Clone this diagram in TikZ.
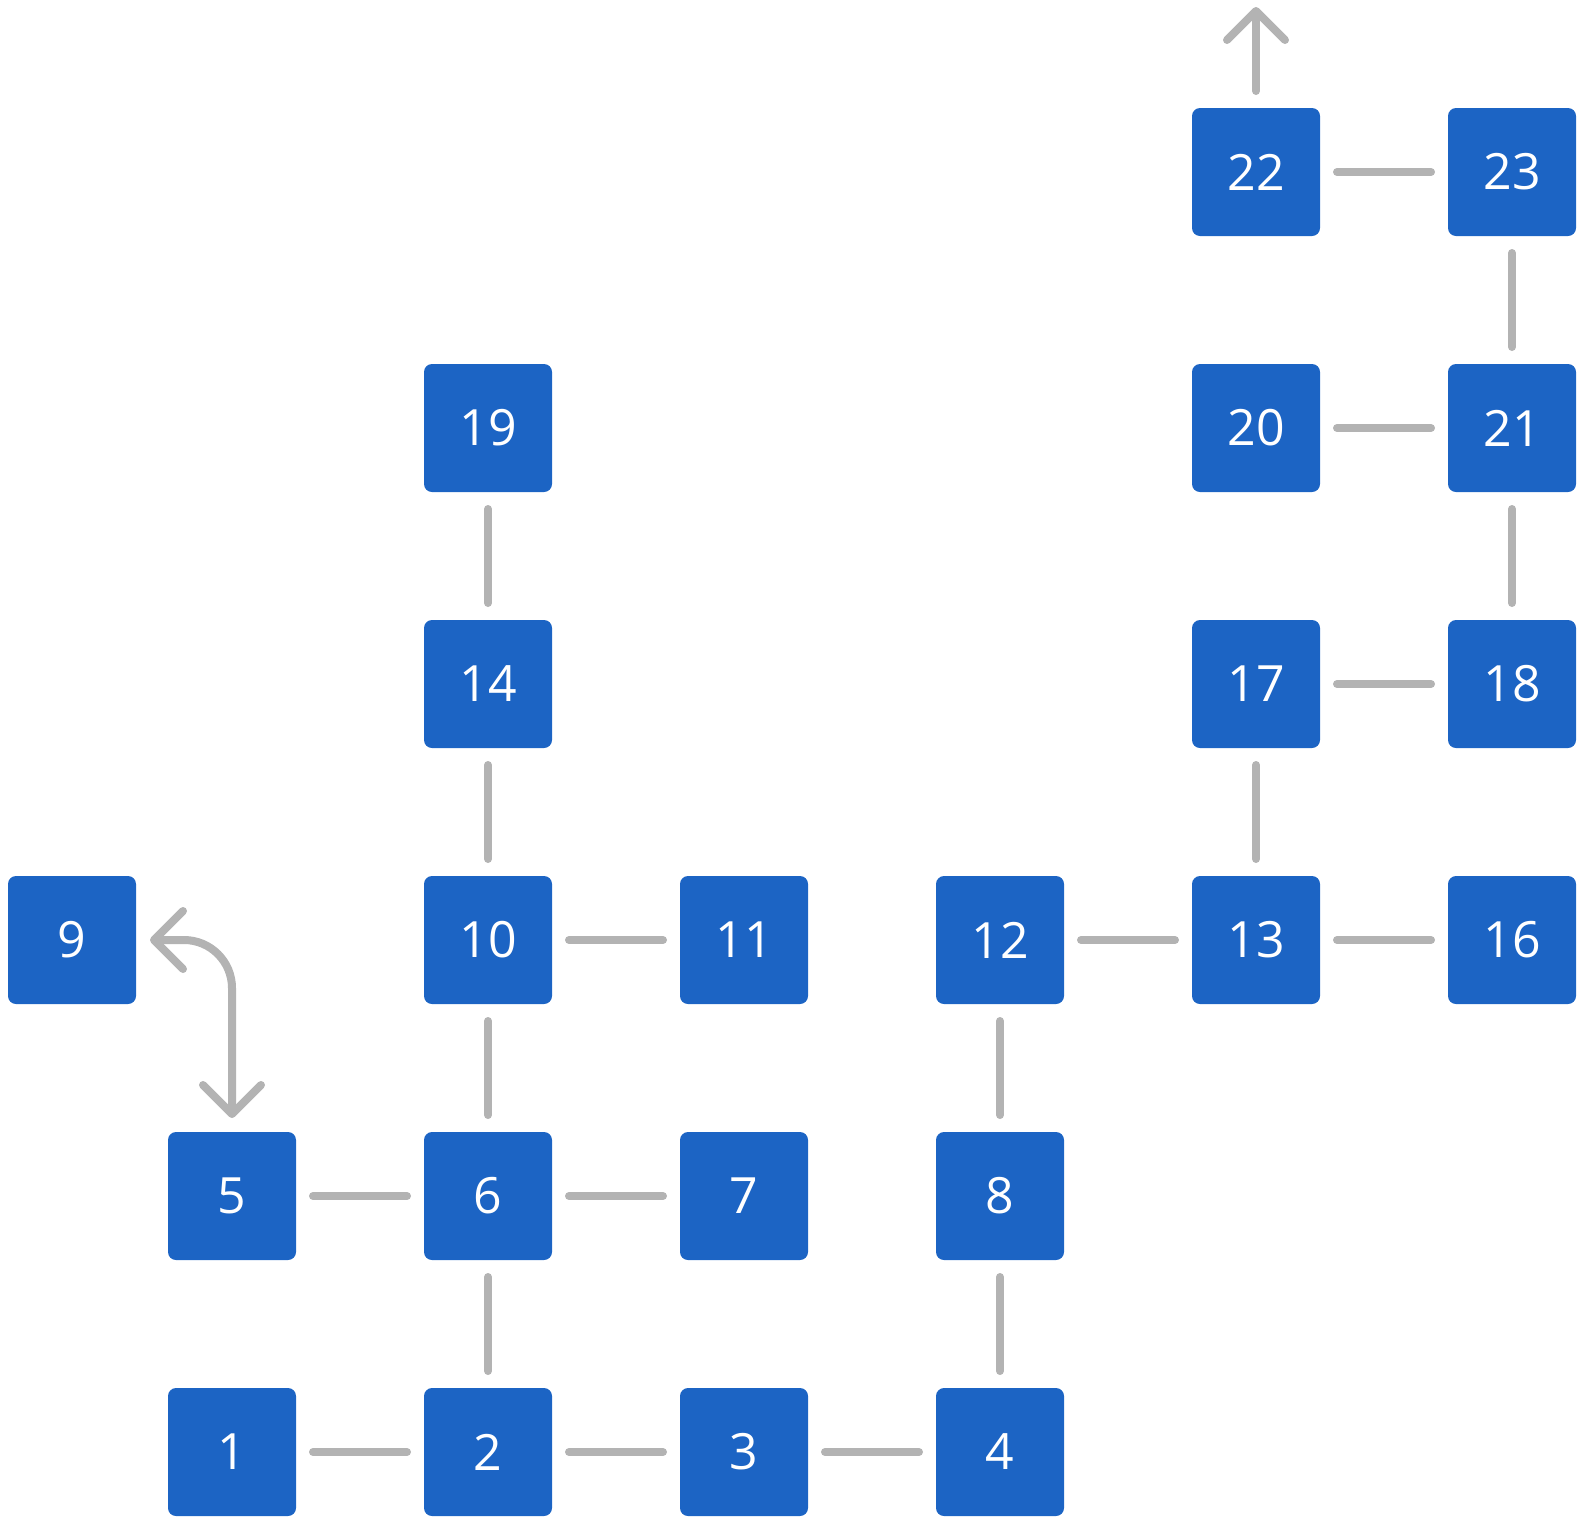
\documentclass[tikz,border=0pt]{standalone}
\usepackage{fontspec}
\setmainfont{Open Sans}
\usetikzlibrary{arrows.meta}
\definecolor{boxblue}{RGB}{28,100,196}
\definecolor{linegray}{RGB}{179,179,179}
\begin{document}
\begin{tikzpicture}[x=1pt,y=-1pt,
  box/.style={draw=none,fill=boxblue,rounded corners=8pt,minimum width=128pt,minimum height=128pt,
    inner sep=0pt,outer sep=0pt,text=white,font=\fontsize{50}{60}\selectfont},
  link/.style={draw=linegray,line width=8pt,line cap=round,shorten <=17pt,shorten >=17pt},
  arr/.style={draw=linegray,line width=8pt,line cap=round}]
\useasboundingbox (0,0) rectangle (1584,1524);
\def\ca{72}\def\cb{232}\def\cc{488}\def\cd{744}\def\ce{1000}\def\cf{1256}\def\cg{1512}
\def\ra{172}\def\rb{428}\def\rc{684}\def\rd{940}\def\re{1196}\def\rf{1452}
\node[box] (n1) at (\cb,\rf) {1};
\node[box] (n2) at (\cc,\rf) {2};
\node[box] (n3) at (\cd,\rf) {3};
\node[box] (n4) at (\ce,\rf) {4};
\node[box] (n5) at (\cb,\re) {5};
\node[box] (n6) at (\cc,\re) {6};
\node[box] (n7) at (\cd,\re) {7};
\node[box] (n8) at (\ce,\re) {8};
\node[box] (n9) at (\ca,\rd) {9};
\node[box] (n10) at (\cc,\rd) {10};
\node[box] (n11) at (\cd,\rd) {11};
\node[box] (n12) at (\ce,\rd) {12};
\node[box] (n13) at (\cf,\rd) {13};
\node[box] (n16) at (\cg,\rd) {16};
\node[box] (n14) at (\cc,\rc) {14};
\node[box] (n17) at (\cf,\rc) {17};
\node[box] (n18) at (\cg,\rc) {18};
\node[box] (n19) at (\cc,\rb) {19};
\node[box] (n20) at (\cf,\rb) {20};
\node[box] (n21) at (\cg,\rb) {21};
\node[box] (n22) at (\cf,\ra) {22};
\node[box] (n23) at (\cg,\ra) {23};
\coordinate (top) at (\cf,7);
% horizontal links
\foreach \a/\b in {n1/n2,n2/n3,n3/n4,n5/n6,n6/n7,n10/n11,n12/n13,n13/n16,n17/n18,n20/n21,n22/n23}
  \draw[link] (\a.east) -- (\b.west);
% vertical links
\foreach \a/\b in {n2/n6,n6/n10,n10/n14,n14/n19,n4/n8,n8/n12,n13/n17,n18/n21,n21/n23}
  \draw[link] (\a.north) -- (\b.south);
% arrows
\draw[arr,shorten <=17pt,-{Straight Barb[length=29pt,width=58pt,round]}] (n22.north) -- (top);
\draw[arr,rounded corners=48pt,
  {Straight Barb[length=29pt,width=58pt,round]}-{Straight Barb[length=29pt,width=58pt,round]}]
  ([xshift=14pt]n9.east) -| ([yshift=14pt]n5.north);
\end{tikzpicture}
\end{document}
